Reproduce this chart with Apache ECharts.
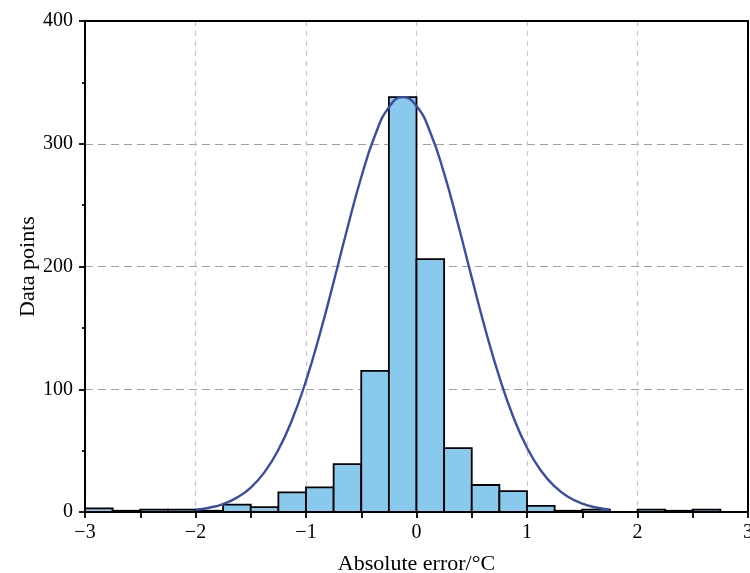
<!DOCTYPE html>
<html>
<head>
<meta charset="utf-8">
<script src="https://cdn.jsdelivr.net/npm/echarts@6/dist/echarts.min.js"></script>
<style>
  html, body { margin: 0; padding: 0; background: #fff; }
  #chart { width: 750px; height: 573px; }
</style>
</head>
<body>
<div id="chart"></div>
<script>
// histogram bins (width 0.25)
var binStart = [-3, -2.75, -2.5, -2.25, -2, -1.75, -1.5, -1.25, -1, -0.75, -0.5, -0.25,
  0, 0.25, 0.5, 0.75, 1, 1.25, 1.5, 1.75, 2, 2.25, 2.5, 2.75]
var binEnd = [-2.75, -2.5, -2.25, -2, -1.75, -1.5, -1.25, -1, -0.75, -0.5, -0.25, 0,
  0.25, 0.5, 0.75, 1, 1.25, 1.5, 1.75, 2, 2.25, 2.5, 2.75, 3]
var counts = [3, 1, 2, 2, 1, 6, 4, 16, 20, 39, 115, 338,
  206, 52, 22, 17, 5, 1, 2, 0, 2, 1, 2, 0]

// fitted curve
var curveX = [-2, -1.875, -1.75, -1.625, -1.5, -1.375, -1.25, -1.125, -1, -0.875, -0.75, -0.625,
  -0.5, -0.375, -0.25, -0.125, 0, 0.125, 0.25, 0.375, 0.5, 0.625, 0.75, 0.875,
  1, 1.125, 1.25, 1.375, 1.5, 1.625, 1.75]
var curveY = [1.8, 3.5, 6.5, 11.7, 19.9, 32.5, 50.7, 75.3, 106.9, 144.9, 187.4, 231.4,
  272.7, 306.9, 329.6, 338, 330.8, 309.2, 275.8, 234.8, 190.9, 148.1, 109.8, 77.6,
  52.4, 33.8, 20.8, 12.2, 6.8, 3.7, 1.9]

var xTicks = [-3, -2, -1, 0, 1, 2, 3]
var yTicks = [0, 100, 200, 300, 400]

var font = 'Liberation Serif'

var chart = echarts.init(document.getElementById('chart'))

var barData = binStart.map(function(s, i) {
  return [s, binEnd[i], counts[i]]
})
var lineData = curveX.map(function(x, i) {
  return [x, curveY[i]]
})

chart.setOption({
  animation: false,
  grid: {
    left: 85,
    right: 2,
    top: 21,
    bottom: 61,
    outerBoundsMode: 'none'
  },
  xAxis: [{
    type: 'value',
    min: xTicks[0],
    max: xTicks[xTicks.length - 1],
    interval: 1,
    name: 'Absolute error/°C',
    nameLocation: 'middle',
    nameGap: 41,
    nameTextStyle: { fontFamily: font, fontSize: 22, color: '#000' },
    axisLine: { show: true, onZero: false, lineStyle: { color: '#000', width: 2 } },
    axisTick: { show: true, inside: false, length: 6, lineStyle: { color: '#000', width: 1.8 } },
    minorTick: { show: true, splitNumber: 2, length: 6, lineStyle: { color: '#000', width: 1.8 } },
    axisLabel: {
      fontFamily: font,
      fontSize: 20,
      color: '#000',
      margin: 11,
      formatter: function(v) {
        return String(v).replace('-', '\u2212')
      }
    },
    splitLine: {
      show: true,
      lineStyle: { color: '#c8c8c8', type: [5, 5], width: 1.2 }
    }
  }, {
    type: 'value',
    position: 'top',
    min: xTicks[0],
    max: xTicks[xTicks.length - 1],
    axisLine: { show: true, onZero: false, lineStyle: { color: '#000', width: 2 } },
    axisTick: { show: false },
    axisLabel: { show: false },
    splitLine: { show: false }
  }],
  yAxis: [{
    type: 'value',
    min: yTicks[0],
    max: yTicks[yTicks.length - 1],
    interval: 100,
    name: 'Data points',
    nameLocation: 'middle',
    nameGap: 46,
    nameMoveOverlap: false,
    nameTextStyle: { fontFamily: font, fontSize: 22, color: '#000' },
    axisLine: { show: true, onZero: false, lineStyle: { color: '#000', width: 2 } },
    axisTick: { show: true, inside: false, length: 6, lineStyle: { color: '#000', width: 1.8 } },
    minorTick: { show: true, splitNumber: 2, length: 3, lineStyle: { color: '#000', width: 1.8 } },
    axisLabel: { fontFamily: font, fontSize: 20, color: '#000', margin: 12 },
    splitLine: {
      show: true,
      lineStyle: { color: '#a0a0a0', type: [8, 5], width: 1.2 }
    }
  }, {
    type: 'value',
    position: 'right',
    min: yTicks[0],
    max: yTicks[yTicks.length - 1],
    axisLine: { show: true, onZero: false, lineStyle: { color: '#000', width: 2 } },
    axisTick: { show: false },
    axisLabel: { show: false },
    splitLine: { show: false }
  }],
  series: [
    {
      name: 'hist',
      type: 'custom',
      xAxisIndex: 0,
      yAxisIndex: 0,
      z: 3,
      encode: { x: [0, 1], y: 2 },
      data: barData,
      renderItem: function(params, api) {
        var p0 = api.coord([api.value(0), api.value(2)])
        var p1 = api.coord([api.value(1), 0])
        return {
          type: 'rect',
          shape: { x: p0[0], y: p0[1], width: p1[0] - p0[0], height: p1[1] - p0[1] },
          style: { fill: '#89c9ed', stroke: '#000', lineWidth: 1.8 }
        }
      }
    },
    {
      name: 'fit',
      type: 'line',
      xAxisIndex: 0,
      yAxisIndex: 0,
      z: 5,
      smooth: true,
      showSymbol: false,
      data: lineData,
      lineStyle: { color: '#3a4da1', width: 2.4 }
    }
  ]
})
</script>
</body>
</html>
